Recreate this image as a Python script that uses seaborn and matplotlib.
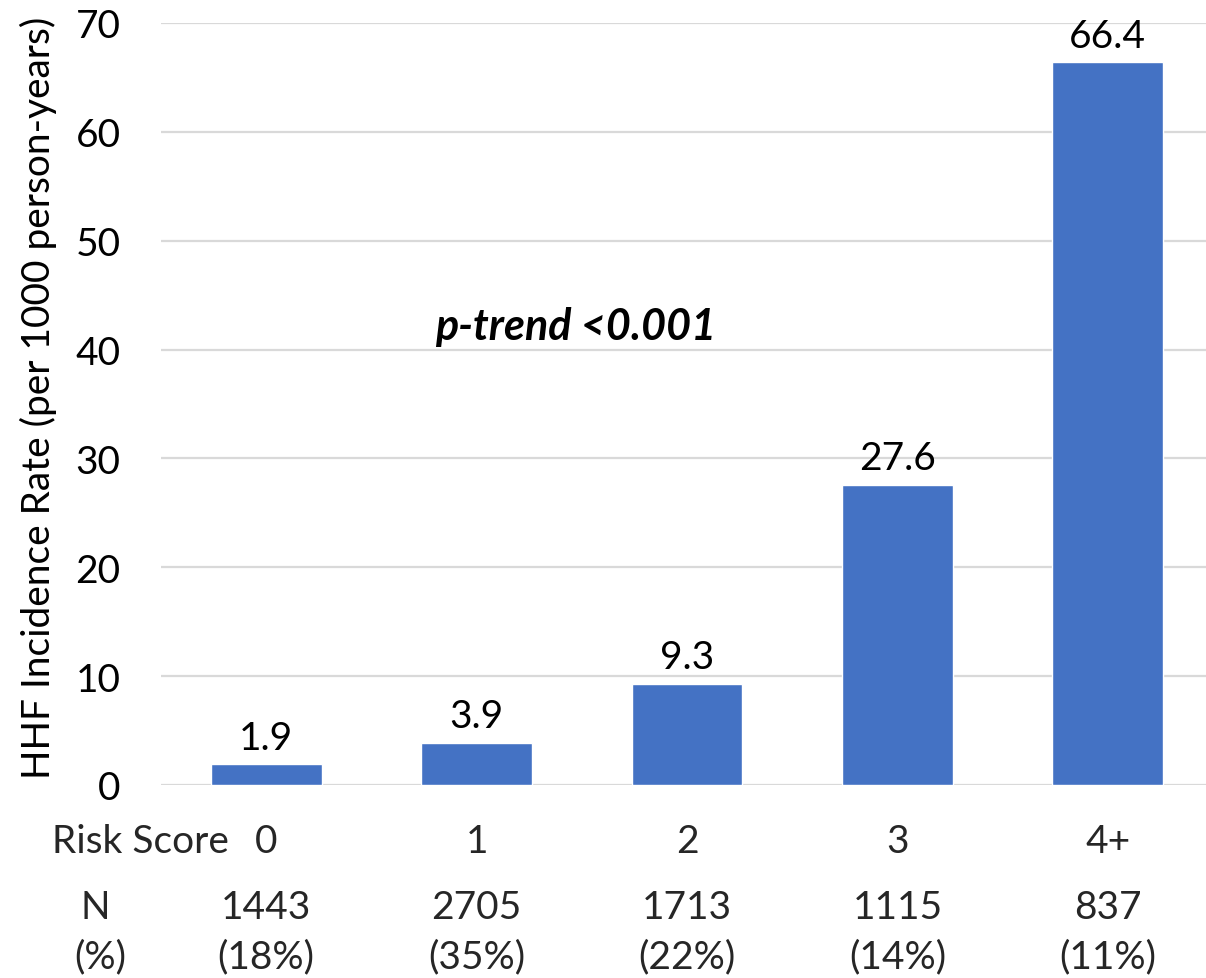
import matplotlib
matplotlib.use("Agg")
import matplotlib.pyplot as plt
import matplotlib.transforms as mtransforms
import seaborn as sns
import pandas as pd

# Data
risk_scores = ["0", "1", "2", "3", "4+"]
incidence = [1.9, 3.9, 9.3, 27.6, 66.4]
n_counts = ["1443", "2705", "1713", "1115", "837"]
n_pcts = ["(18%)", "(35%)", "(22%)", "(14%)", "(11%)"]
y_ticks = [0, 10, 20, 30, 40, 50, 60, 70]

df = pd.DataFrame({"score": risk_scores, "rate": incidence})

sns.set_theme(style="white")
plt.rcParams["font.family"] = ["Lato", "DejaVu Sans"]

FS = 28
W, H = 1206, 979
fig = plt.figure(figsize=(W / 100, H / 100), dpi=100)
left, right, top, bottom = 161, 1213, 24, 786
ax = fig.add_axes([left / W, 1 - bottom / H, (right - left) / W, (bottom - top) / H])

sns.barplot(data=df, x="score", y="rate", color="#4472C4", saturation=1,
            width=0.527, ax=ax, zorder=3)

ax.set_xlim(-0.5, 4.5)
ax.set_ylim(0, 70)
ax.set_yticks(y_ticks)
ax.yaxis.grid(True, color="#d9d9d9", linewidth=1.6, zorder=0)
ax.set_axisbelow(True)
for s in ax.spines.values():
    s.set_visible(False)
ax.tick_params(axis="y", length=0, labelsize=FS, pad=29, colors="black")
ax.tick_params(axis="x", length=0, labelbottom=False)
ax.set_xlabel("")
ax.set_ylabel("HHF Incidence Rate (per 1000 person-years)", fontsize=FS,
              color="black", va="center")
ax.yaxis.set_label_coords((38 - left) / (right - left), 0.51)

# Value labels above bars
for i, v in enumerate(incidence):
    ax.annotate(f"{v}", (i, v), xytext=(0, 6), textcoords="offset points",
                ha="center", va="bottom", fontsize=FS, color="black")

# Category row, row headers and sample size rows below the axis
trans = mtransforms.blended_transform_factory(ax.transData, fig.transFigure)
fig.text(52 / W, 1 - 842 / H, "Risk Score", fontsize=FS, ha="left", va="center")
fig.text(95 / W, 1 - 908 / H, "N", fontsize=FS, ha="center", va="center")
fig.text(100 / W, 1 - 957 / H, "(%)", fontsize=FS, ha="center", va="center")
for i, (c, n, p) in enumerate(zip(risk_scores, n_counts, n_pcts)):
    ax.text(i, 1 - 842 / H, c, transform=trans, fontsize=FS, ha="center", va="center")
    ax.text(i, 1 - 908 / H, n, transform=trans, fontsize=FS, ha="center", va="center")
    ax.text(i, 1 - 957 / H, p, transform=trans, fontsize=FS, ha="center", va="center")

ax.text(1.47, 42.2, "p-trend <0.001", fontsize=31, fontweight="bold",
        fontstyle="italic", ha="center", va="center", color="black")

fig.savefig("out.png", dpi=100)
